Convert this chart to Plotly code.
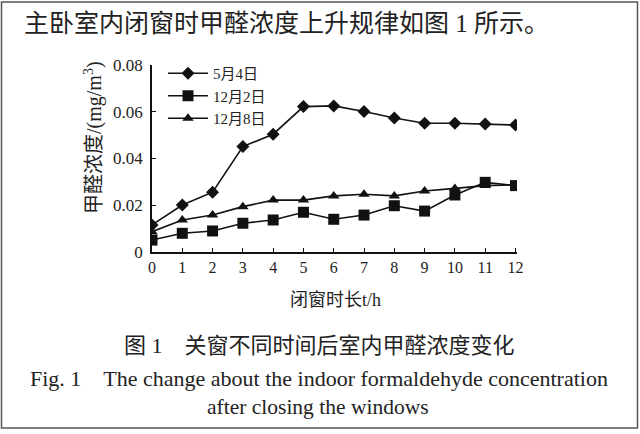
import plotly.graph_objects as go

hours = list(range(13))
may4 = [0.0116, 0.0201, 0.0256, 0.0451, 0.0504, 0.0622, 0.0625, 0.0601, 0.0573, 0.0551, 0.0551, 0.0548, 0.0543]
dec2 = [0.0051, 0.0080, 0.0090, 0.0123, 0.0137, 0.0170, 0.0140, 0.0158, 0.0198, 0.0175, 0.0244, 0.0298, 0.0284]
dec8 = [0.0087, 0.0137, 0.0158, 0.0194, 0.0222, 0.0222, 0.0240, 0.0247, 0.0240, 0.0261, 0.0272, 0.0284, 0.0287]
series_names = ["5月4日", "12月2日", "12月8日"]
symbols = ["diamond", "square", "triangle-up"]
ytick_vals = [0, 0.02, 0.04, 0.06, 0.08]
ytick_text = ["0", "0.02", "0.04", "0.06", "0.08"]

W, H = 640, 434
L, R, T, B = 152, 517, 65, 252  # plot area pixels
FONT = "Liberation Serif, Noto Sans CJK SC, serif"
INK = "#222222"

def px(x):
    return (x - L) / (R - L)

def py(y):
    return (B - y) / (B - T)

fig = go.Figure()
for name, vals, sym, sz in zip(series_names, [may4, dec2, dec8], symbols, [10, 11, 10]):
    fig.add_trace(go.Scatter(
        x=hours, y=vals, name=name, mode="lines+markers",
        line=dict(color="#111111", width=1.6),
        marker=dict(symbol=sym, size=sz, color="#111111"),
    ))

fig.update_layout(
    width=W, height=H,
    margin=dict(l=L, r=W - R, t=T, b=H - B),
    paper_bgcolor="white", plot_bgcolor="white",
    font=dict(family=FONT, color=INK, size=16),
    showlegend=True,
    legend=dict(x=px(163), y=py(57), xanchor="left", yanchor="top",
                bgcolor="rgba(0,0,0,0)", font=dict(size=15, family=FONT, color=INK),
                tracegroupgap=0, itemwidth=40),
    xaxis=dict(range=[0, 12.05], tickvals=hours, ticktext=[str(h) for h in hours],
               ticks="inside", ticklen=4, tickcolor="#111", showline=True,
               linecolor="#111", linewidth=1.6, showgrid=False, zeroline=False,
               tickfont=dict(size=16, family=FONT, color=INK)),
    yaxis=dict(range=[0, 0.08], tickvals=ytick_vals, ticktext=ytick_text,
               ticks="inside", ticklen=4, tickcolor="#111", showline=True,
               linecolor="#111", linewidth=1.6, showgrid=False, zeroline=False,
               ticklabelstandoff=4,
               tickfont=dict(size=17, family=FONT, color=INK)),
)

annos = [
    dict(text="主卧室内闭窗时甲醛浓度上升规律如图 1 所示。", x=px(22), y=py(23), xanchor="left", size=25),
    dict(text="闭窗时长t/h", x=px(335), y=py(300), xanchor="center", size=18),
    dict(text="图 1　关窗不同时间后室内甲醛浓度变化", x=px(319), y=py(345), xanchor="center", size=22),
    dict(text="Fig. 1　The change about the indoor formaldehyde concentration", x=px(319), y=py(378), xanchor="center", size=22),
    dict(text="after closing the windows", x=px(318), y=py(407), xanchor="center", size=21.5),
]
for a in annos:
    fig.add_annotation(text=a["text"], x=a["x"], y=a["y"], xref="paper", yref="paper",
                       xanchor=a["xanchor"], yanchor="middle", showarrow=False,
                       font=dict(size=a["size"], family=FONT, color=INK))

fig.add_annotation(text="甲醛浓度/(mg/m<sup>3</sup>)", x=px(93), y=py(138), xref="paper", yref="paper",
                   textangle=-90, xanchor="center", yanchor="middle", showarrow=False,
                   font=dict(size=20, family=FONT, color=INK))

fig.add_shape(type="rect", xref="paper", yref="paper",
              x0=px(1.5), x1=px(637.5), y0=py(428), y1=py(2),
              line=dict(color="#555555", width=1.5))

fig.write_html("out.html")
